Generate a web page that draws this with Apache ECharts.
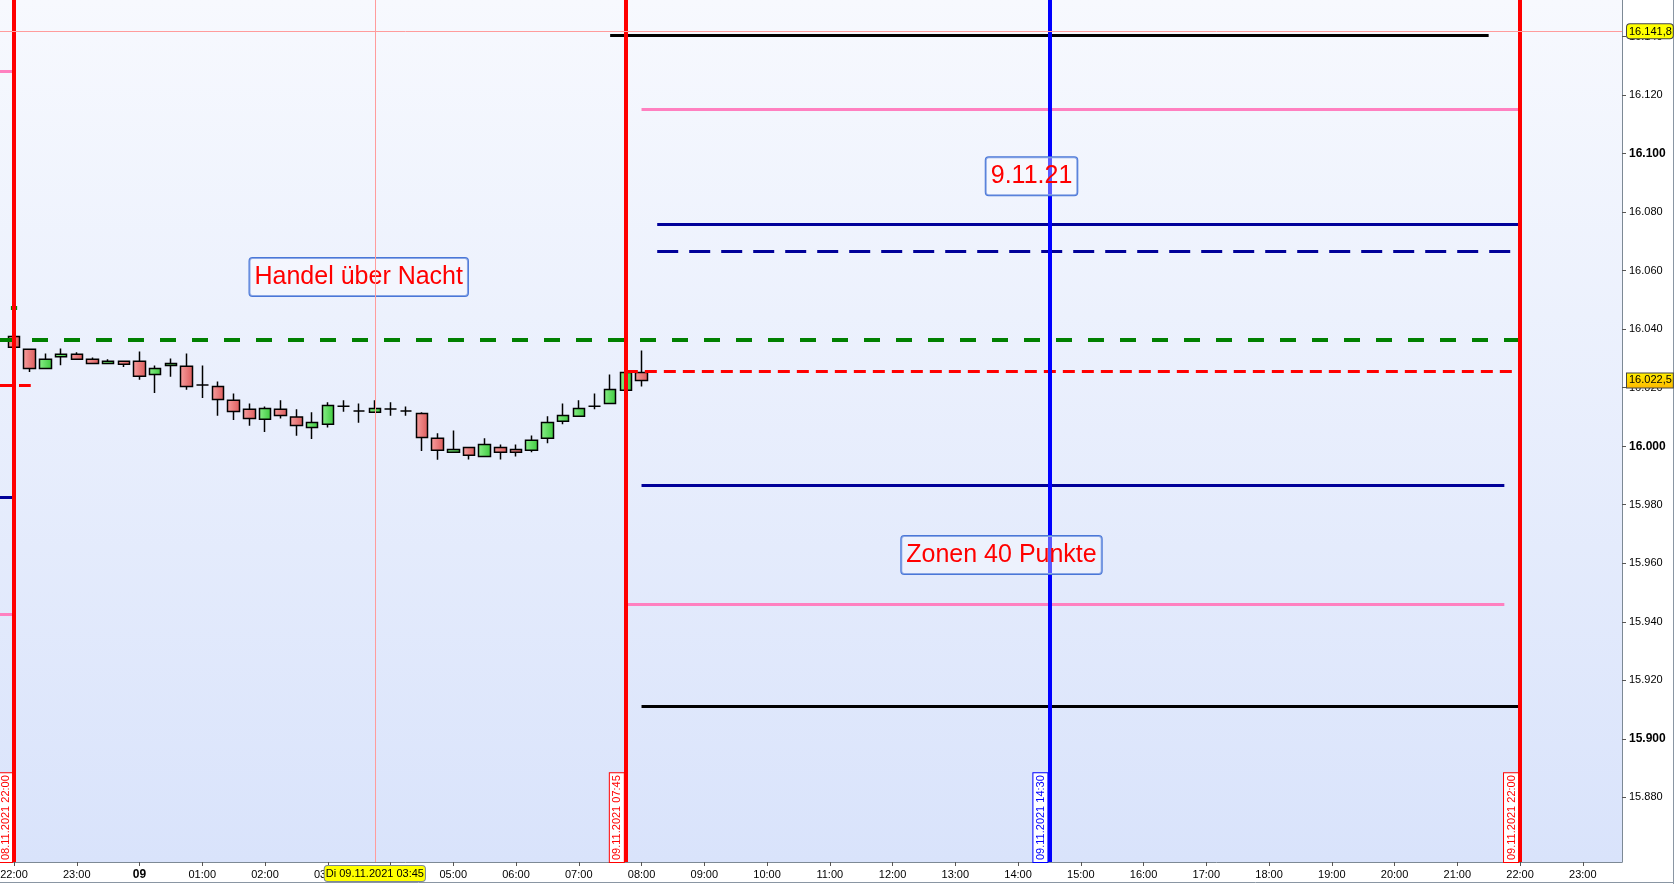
<!DOCTYPE html>
<html>
<head>
<meta charset="utf-8">
<title>DAX 09.11.2021</title>
<script src="https://cdn.jsdelivr.net/npm/echarts@6/dist/echarts.min.js"></script>
<style>
html,body{margin:0;padding:0;background:#fff;}
#chart{width:1674px;height:884px;}
</style>
</head>
<body>
<div id="chart"></div>
<script>
// Zeit = Minuten ab 08.11.2021 22:00, 15-Minuten-Kerzen
const candleTimes = [0,15,30,45,60,75,90,105,120,135,150,165,180,195,210,225,240,255,270,285,300,315,330,345,360,375,390,405,420,435,450,465,480,495,510,525,540,555,570,585,600];
const opens  = [16037.5,16033.1,16026.6,16030.6,16031.4,16029.7,16028.3,16029.0,16029.0,16024.5,16027.6,16027.3,16020.9,16020.4,16015.7,16012.6,16009.2,16012.6,16010.0,16006.4,16007.5,16013.7,16012.0,16011.6,16012.7,16012.0,16011.2,16002.7,15997.9,15999.6,15996.5,15999.6,15998.9,15998.6,16002.7,16008.5,16010.2,16013.7,16014.6,16019.1,16025.2];
const closes = [16033.8,16026.6,16029.7,16031.4,16029.7,16028.3,16029.0,16028.0,16023.9,16026.6,16028.3,16020.4,16020.9,16016.0,16011.9,16009.5,16012.9,16010.5,16007.1,16008.1,16013.9,16013.7,16012.0,16012.9,16012.7,16012.0,16003.0,15998.6,15998.9,15996.9,16000.6,15997.9,15997.9,16002.0,16008.1,16010.5,16012.9,16013.7,16019.4,16025.2,16022.5];
const lows   = [16033.8,16025.4,16026.6,16027.7,16029.7,16028.3,16028.3,16027.1,16022.7,16018.2,16023.7,16019.3,16016.5,16010.4,16009.0,16007.0,16004.9,16009.5,16003.6,16002.5,16006.4,16011.8,16008.0,16011.6,16010.4,16010.4,15998.4,15995.4,15997.9,15995.5,15996.5,15995.5,15996.5,15997.9,16001.0,16007.5,16010.2,16012.6,16014.6,16019.1,16020.4];
const highs  = [16037.5,16033.1,16031.7,16033.4,16032.1,16030.3,16029.7,16029.3,16032.4,16027.6,16030.0,16031.7,16027.6,16022.1,16018.0,16014.6,16013.6,16015.7,16012.6,16011.6,16015.0,16015.7,16014.6,16015.7,16015.0,16013.6,16011.6,16004.4,16005.4,15999.6,16002.7,16000.6,16000.6,16003.7,16010.2,16014.6,16015.7,16018.0,16024.5,16025.2,16032.7];

// Zonen / Linien fuer den 09.11.
const levelValues = [16140.5, 16115, 16076, 16066.5, 16036.5, 16025.5, 15986.5, 15946, 15911];
const levelFrom   = [570, 600, 615, 615, -13.4, 585, 600, 585, 600];
const levelTo     = [1410, 1440, 1440, 1440, 1440, 1440, 1425, 1425, 1440];
const levelKinds  = ['black','pink','navy','navyDash','greenDash','redDash','navy','pink','black'];

// Reste der Linien vom Vortag (links vor 22:00)
const oldValues = [16128.3, 16047.3, 16021, 15982.4, 15942.5];
const oldFrom   = [-13.4, -3, -13.4, -13.4, -13.4];
const oldTo     = [0, 3, 16, 0, 0];
const oldKinds  = ['pink','greenDash','redDash','navy','pink'];

// senkrechte Zeitmarken
const markerTimes = [0, 585, 990, 1440];
const markerKinds = ['red','red','blue','red'];

// Textfelder
const noteTexts  = ['Handel über Nacht', '9.11.21', 'Zonen 40 Punkte'];
const noteTimes  = [329.6, 972.9, 944.2];
const noteValues = [16057.8, 16092.3, 15962.8];

const hourTicks  = [0,60,120,180,240,300,360,420,480,540,600,660,720,780,840,900,960,1020,1080,1140,1200,1260,1320,1380,1440,1500];
const priceTicks = [15880,15900,15920,15940,15960,15980,16000,16020,16040,16060,16080,16100,16120,16140];

const crossTime = 345;
const crossPrice = 16141.8;
const lastPrice = 16022.5;

const xMin = -13.4, xMax = 1537.5;
const yMin = 15857.9, yMax = 16152.5;

const FONT = "'Liberation Sans', Arial, sans-serif";

const styles = {
  black:     {color:'#000000', width:3, type:'solid'},
  pink:      {color:'#ff80c0', width:3, type:'solid'},
  navy:      {color:'#000099', width:3, type:'solid'},
  navyDash:  {color:'#000099', width:3, type:[21,11]},
  greenDash: {color:'#008000', width:4, type:[16,16]},
  redDash:   {color:'#ff0000', width:3, type:[12,7]},
  red:       {color:'#ff0000', width:4, type:'solid'},
  blue:      {color:'#0000ff', width:4, type:'solid'}
};

function p2(n){ return String(n).padStart(2,'0'); }
function fmtDate(min){
  const total = 22*60 + min;
  const day = 8 + Math.floor(total/1440);
  const m = ((total % 1440) + 1440) % 1440;
  return p2(day) + '.11.2021 ' + p2(Math.floor(m/60)) + ':' + p2(m % 60);
}
function fmtPrice(v){
  const i = Math.floor(v);
  const d = Math.round((v - i) * 10);
  return (i/1000).toFixed(3) + ',' + d;
}

const candleData = candleTimes.map((t,i)=>[t, opens[i], closes[i], lows[i], highs[i]]);

const lineData = [];
levelValues.forEach((v,i)=>{
  lineData.push([{coord:[levelFrom[i], v], lineStyle: styles[levelKinds[i]]}, {coord:[levelTo[i], v]}]);
});
oldValues.forEach((v,i)=>{
  lineData.push([{coord:[oldFrom[i], v], lineStyle: styles[oldKinds[i]]}, {coord:[oldTo[i], v]}]);
});
// aktueller Kurs rechts an der Preisachse
lineData.push({
  yAxis: lastPrice,
  lineStyle: {width:1, color:'rgba(0,0,0,0)', type:'solid'},
  label: {
    show:true, position:'end', distance:5,
    formatter: fmtPrice(lastPrice),
    color:'#000', fontSize:11, fontFamily:FONT,
    backgroundColor:{type:'linear',x:0,y:0,x2:0,y2:1,colorStops:[{offset:0,color:'#fff200'},{offset:1,color:'#ffb800'}]},
    borderColor:'#444', borderWidth:1, padding:[2,1,1,2]
  }
});
markerTimes.forEach((t,i)=>{
  const st = styles[markerKinds[i]];
  lineData.push({
    xAxis: t,
    lineStyle: st,
    label: {
      show:true, position:'insideStartTop', distance:[0,2],
      formatter: fmtDate(t),
      color: st.color, fontSize:11, fontFamily:FONT,
      backgroundColor:'#ffffff', borderColor: st.color, borderWidth:1, padding:[2,2,1,2]
    }
  });
});

const chart = echarts.init(document.getElementById('chart'));
chart.setOption({
  animation:false,
  backgroundColor:'#ffffff',
  axisPointer:{triggerOn:'none'},
  grid:{
    left:0, top:0, right:52, bottom:22,
    outerBoundsMode:'none', containLabel:false,
    show:true, borderWidth:0,
    backgroundColor:{type:'linear',x:0,y:0,x2:0,y2:1,colorStops:[{offset:0,color:'#f7f9fe'},{offset:1,color:'#d9e3fb'}]}
  },
  xAxis:{
    type:'value', min:xMin, max:xMax,
    splitLine:{show:false},
    axisLine:{show:true, onZero:false, lineStyle:{color:'#7d8995', width:1}},
    axisTick:{show:true, customValues:hourTicks, length:4, lineStyle:{color:'#555'}},
    axisLabel:{
      customValues:hourTicks, margin:7, color:'#000', fontSize:11, fontFamily:FONT,
      formatter:function(v){
        const h = (22 + Math.round(v/60)) % 24;
        return h === 0 ? '{b|09}' : p2(h) + ':00';
      },
      rich:{b:{fontWeight:'bold', fontSize:12, fontFamily:FONT, color:'#000'}}
    },
    axisPointer:{
      show:true, status:'show', value:crossTime, triggerTooltip:false,
      lineStyle:{color:'#ff9c9c', width:1, type:'solid'},
      label:{
        show:true, margin:4,
        formatter:function(){ return 'Di ' + fmtDate(crossTime); },
        color:'#000', fontSize:11, fontFamily:FONT,
        backgroundColor:'#ffff00', borderColor:'#7d8995', borderWidth:1, padding:[2,1,2,1], shadowBlur:0
      }
    }
  },
  yAxis:{
    type:'value', position:'right', min:yMin, max:yMax,
    splitLine:{show:false},
    axisLine:{show:true, onZero:false, lineStyle:{color:'#7d8995', width:1}},
    axisTick:{show:true, customValues:priceTicks, length:4, lineStyle:{color:'#555'}},
    axisLabel:{
      customValues:priceTicks, margin:7, color:'#000', fontSize:11, fontFamily:FONT,
      formatter:function(v){
        const s = (v/1000).toFixed(3);
        return Math.round(v) % 100 === 0 ? '{b|' + s + '}' : s;
      },
      rich:{b:{fontWeight:'bold', fontSize:12, fontFamily:FONT, color:'#000'}}
    },
    axisPointer:{
      show:true, status:'show', value:crossPrice, triggerTooltip:false,
      lineStyle:{color:'#ff9c9c', width:1, type:'solid'},
      label:{
        show:true, margin:5,
        formatter:function(){ return fmtPrice(crossPrice); },
        color:'#000', fontSize:11, fontFamily:FONT,
        backgroundColor:'#ffff00', borderColor:'#444', borderWidth:1, padding:[2,1,1,2], shadowBlur:0
      }
    }
  },
  graphic:[
    {type:'line', shape:{x1:0, y1:882.5, x2:1674, y2:882.5}, style:{stroke:'#8a96a3', lineWidth:1}, silent:true},
    {type:'line', shape:{x1:1673.5, y1:0, x2:1673.5, y2:884}, style:{stroke:'#8a96a3', lineWidth:1}, silent:true}
  ],
  series:[{
    name:'DAX', type:'candlestick',
    data:candleData,
    encode:{x:0, y:[1,2,3,4]},
    barWidth:12,
    itemStyle:{
      color:{type:'linear',x:0,y:0,x2:1,y2:0,colorStops:[{offset:0,color:'#8af08a'},{offset:1,color:'#3cc83c'}]},
      color0:{type:'linear',x:0,y:0,x2:1,y2:0,colorStops:[{offset:0,color:'#f7a0a0'},{offset:1,color:'#dc5a5a'}]},
      borderColor:'#000', borderColor0:'#000', borderColorDoji:'#000', borderWidth:1.5
    },
    markLine:{
      silent:true, animation:false, symbol:['none','none'],
      label:{show:false},
      emphasis:{disabled:true},
      data:lineData
    },
    markPoint:{
      silent:true, animation:false, symbol:'rect', symbolSize:1,
      itemStyle:{color:'rgba(0,0,0,0)'},
      label:{
        show:true, position:'inside', formatter:'{b}',
        color:'#ff0000', fontSize:25, fontFamily:FONT,
        backgroundColor:'rgba(255,255,255,0.35)', borderColor:'#4a77d8', borderWidth:1, borderRadius:3,
        padding:[7,5,6,5]
      },
      data: noteTexts.map((n,i)=>({name:n, coord:[noteTimes[i], noteValues[i]]}))
    }
  }]
});
</script>
</body>
</html>
